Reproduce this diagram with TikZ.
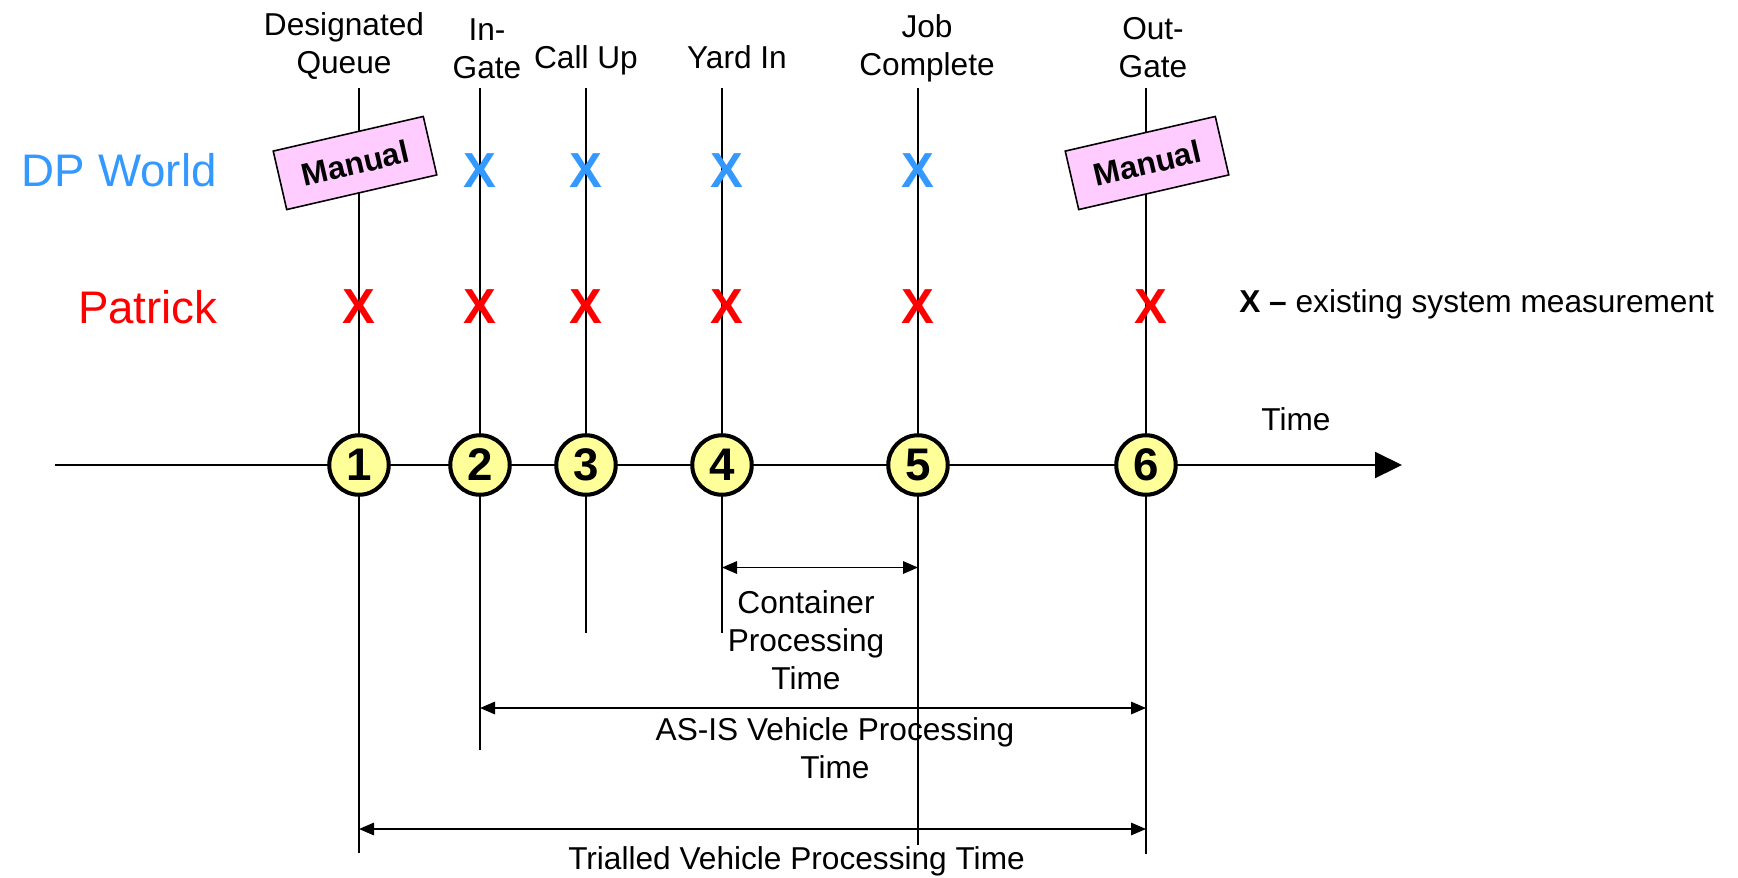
\documentclass[tikz,border=0pt]{standalone}
\usepackage{fontspec}
\setmainfont{Liberation Sans}
\usepackage{xcolor}
\usepackage{tikz}
\usetikzlibrary{arrows.meta, positioning, calc}

\definecolor{dpblue}{HTML}{3399FF}
\definecolor{patred}{HTML}{FF0000}
\definecolor{evtyellow}{HTML}{FFFF99}
\definecolor{manpink}{HTML}{FFCCFF}

\tikzset{
  %% Event line (vertical)
  evline/.style={draw=black, line width=0.8pt},
  %% Numbered event on the time axis
  evt/.style={
    circle, draw=black, fill=evtyellow,
    line width=2.3pt, minimum size=1.19cm, inner sep=0pt,
    font=\fontsize{26}{26}\selectfont\bfseries
  },
  %% Measurement cross
  xmark/.style={
    inner sep=0pt, text=#1,
    font=\fontsize{28}{28}\selectfont\bfseries
  },
  xmark/.default=patred,
  %% Tilted manual tag
  manual/.style={
    rectangle, draw=black, fill=manpink,
    minimum width=3.08cm, minimum height=1.2cm,
    rotate=13, line width=0.9pt, inner sep=0pt,
    font=\fontsize{18}{18}\selectfont\bfseries
  },
  %% Label text
  lbl/.style={align=center, inner sep=0pt,
              font=\fontsize{18}{21.6}\selectfont},
  %% Arrows
  axisarr/.style={-{Triangle[length=0.54cm,width=0.52cm]},
                  draw=black, line width=1.2pt},
  dimarr/.style={{Triangle[length=0.3cm,width=0.25cm]}-%
                 {Triangle[length=0.3cm,width=0.25cm]},
                 draw=black, line width=0.9pt},
}

\begin{document}
\begin{tikzpicture}[every node/.style={font=\fontsize{18}{21.6}\selectfont}]

  \useasboundingbox (0,0) rectangle (34.76,-17.54);

  %% ---- Event lines ----
  \foreach \i/\x/\yb in {1/7.18/-17.06, 2/9.60/-15.00, 3/11.72/-12.66,
                         4/14.44/-12.66, 5/18.36/-16.90, 6/22.92/-17.08} {
    \coordinate (top\i) at (\x,-1.76);
    \coordinate (bot\i) at (\x,\yb);
    \draw[evline] (top\i) -- (bot\i);
  }

  %% ---- Event names ----
  \node[lbl] (nq)    at (6.88,-0.92)  {Designated\\Queue};
  \node[lbl] (nin)   at (9.74,-0.97)  {In-\\Gate};
  \node[lbl, anchor=base] (ncall) at (11.72,-1.36) {Call Up};
  \node[lbl, anchor=base] (nyard) at (14.74,-1.36) {Yard In};
  \node[lbl] (njob)  at (18.54,-0.96) {Job\\Complete};
  \node[lbl] (nout)  at (23.06,-0.96) {Out-\\Gate};

  %% ---- Rows ----
  \node[anchor=east, inner sep=0pt, text=dpblue,
        font=\fontsize{26}{26}\selectfont] (dp) at (4.34,-3.41) {DP World};
  \node[anchor=east, inner sep=0pt, text=patred,
        font=\fontsize{26}{26}\selectfont] (pat) at (4.36,-6.14) {Patrick};

  %% Manual tags
  \node[manual] (man1) at (7.10,-3.26) {Manual};
  \node[manual] (man6) at (22.94,-3.26) {Manual};

  %% Crosses
  \foreach \i/\dx in {2/0, 3/0, 4/0.1, 5/0}
    \node[xmark=dpblue, xshift=\dx cm] (dx\i) at (top\i |- dp) {X};
  \foreach \i/\dx in {1/0, 2/0, 3/0, 4/0.1, 5/0, 6/0.1}
    \node[xmark=patred, xshift=\dx cm] (px\i) at (top\i |- pat) {X};

  \node[anchor=base west, inner sep=0pt] (legend) at (24.78,-6.24)
       {\textbf{X –} existing system measurement};

  %% ---- Time axis ----
  \coordinate (axs) at (1.10,-9.30);
  \coordinate (axe) at (28.04,-9.30);
  \draw[axisarr] (axs) -- (axe);
  \node[lbl, anchor=base] (time) at (25.92,-8.60) {Time};

  \foreach \i in {1,...,6}
    \node[evt] (e\i) at (top\i |- axs) {\i};

  %% ---- Durations ----
  \coordinate (cpt) at (0,-11.35);
  \coordinate (avt) at (0,-14.16);
  \coordinate (tvt) at (0,-16.58);

  \draw[dimarr] (top4 |- cpt) -- (top5 |- cpt);
  \node[lbl] (cptxt) at (16.12,-12.80) {Container\\Processing\\Time};

  \draw[dimarr] (top2 |- avt) -- (top6 |- avt);
  \node[lbl] (avtxt) at (16.70,-14.97) {AS-IS Vehicle Processing\\Time};

  \draw[dimarr] (top1 |- tvt) -- (top6 |- tvt);
  \node[lbl, anchor=base] (tvtxt) at (15.93,-17.38)
       {Trialled Vehicle Processing Time};

\end{tikzpicture}
\end{document}
